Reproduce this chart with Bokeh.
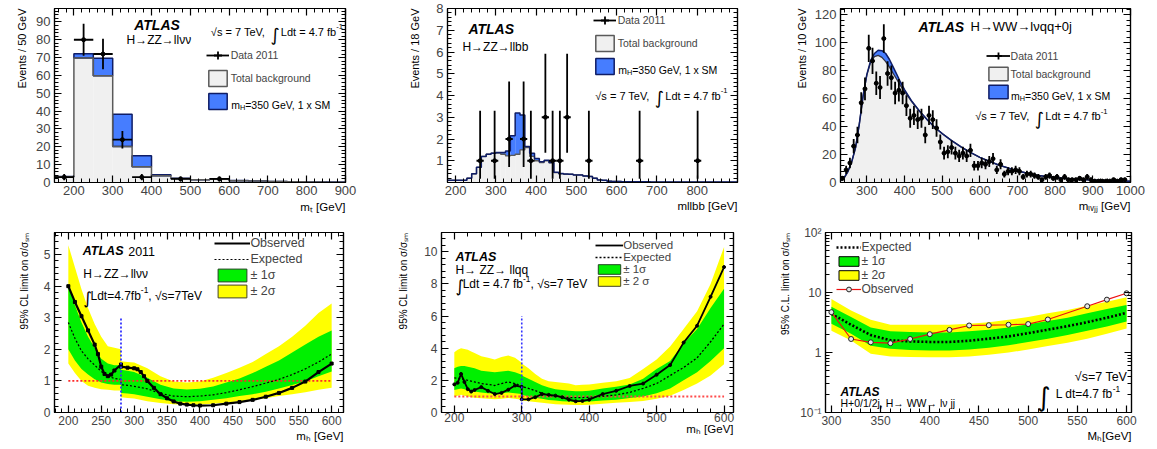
import math
import numpy as np
from bokeh.plotting import figure
from bokeh.layouts import row, column
from bokeh.models import (Label, Legend, LegendItem, FixedTicker, LinearAxis,
                          CustomJSTickFormatter, Range1d, Title)
from bokeh.embed import file_html
from bokeh.resources import INLINE

FONT = "Liberation Sans"
INTFONT = "DejaVu Sans"
BLUE = "#467dff"; NAVY = "#0f1d66"; GREYF = "#f0f0f0"; GREYL = "#5a5a5a"
GREEN = "#00f000"; YELLOW = "#ffff00"

# ====================== DATA ======================
# Panel 1: H->ZZ->llvv, transverse mass
P1_EDGES = [150, 200, 250, 300, 350, 400, 450, 500, 550, 600, 650, 700, 750, 800, 850, 900]
P1_BKG = [3.2, 69.8, 59.8, 20.2, 8.8, 3.8, 2.2, 1.5, 1.8, 1.0, 0.8, 0.5, 0.4, 0.3, 0.2]
P1_TOT = [3.4, 72.2, 69.6, 38.3, 15.0, 4.4, 2.4, 1.6, 2.0, 1.1, 0.9, 0.55, 0.42, 0.32, 0.22]
P1_DATA_X = [175, 225, 275, 325, 375, 475, 575]
P1_DATA_N = [3, 80, 72, 24, 3, 2, 2]

# Panel 2: H->ZZ->llbb
P2_EDGES = list(range(180, 901, 12))
P2_BKG = [0.1, 0.1, 0.1, 0.1, 0.2, 0.4, 0.7, 1.2, 1.3, 1.35,
          1.35, 1.3, 1.22, 1.25, 1.3, 1.5, 1.6, 1.2, 1.0, 0.92,
          1.0, 0.9, 0.45, 0.4, 0.38, 0.38, 0.35, 0.35, 0.3, 0.28,
          0.2, 0.12, 0.1, 0.06, 0.05, 0.05, 0.04, 0.04, 0.03, 0.03,
          0.03, 0.03, 0.02, 0.02, 0.02, 0.02, 0.02, 0.02, 0.02, 0.02,
          0.02, 0.02, 0.02, 0.02, 0.02, 0.02, 0.02, 0.02, 0.02, 0.02]
P2_SIG = [0, 0, 0, 0, 0, 0, 0, 0, 0, 0,
          0.03, 0.08, 0.23, 0.9, 1.9, 1.6, 0.05, 0.15, 0.1, 0.03,
          0.02, 0.02, 0.02, 0.01, 0.01, 0, 0, 0, 0, 0,
          0, 0, 0, 0, 0, 0, 0, 0, 0, 0,
          0, 0, 0, 0, 0, 0, 0, 0, 0, 0,
          0, 0, 0, 0, 0, 0, 0, 0, 0, 0]
P2_DATA_X = [261, 297, 333, 369, 387, 423, 441, 459, 477, 531, 657, 801]
P2_DATA_N = [1, 1, 2, 2, 1, 3, 1, 1, 3, 1, 1, 1]
P2_ERR_LO = [0.83, 0.83, 1.29, 1.29, 0.83, 1.63, 0.83, 0.83, 1.63, 0.83, 0.83, 0.83]
P2_ERR_HI = [2.3, 2.3, 2.64, 2.64, 2.3, 2.92, 2.3, 2.3, 2.92, 2.3, 2.3, 2.3]

# Panel 3: H->WW->lvqq + 0j
P3_X = [230, 240, 250, 260, 270, 280, 290, 300, 310, 320, 330, 340, 350, 360, 370, 380,
        390, 400, 420, 440, 460, 480, 500, 525, 550, 575, 600, 650, 700, 750, 800, 850,
        900, 950, 1000]
P3_BKG = [1.5, 3.5, 8, 15, 25, 42, 62, 77, 86, 90, 91, 89.5, 86.5, 82.5, 78, 73.5,
          69, 65, 57.5, 51, 45, 39.5, 35, 30, 25.5, 21.5, 18, 12.5, 8.3, 5.2, 3.5, 2.4,
          1.7, 1.2, 0.9]
P3_SIG = [0, 0, 0, 0, 0, 0, 0, 0.4, 1.2, 2.3, 3.6, 4.8, 5.8, 5.5, 4.6, 3.6,
          2.4, 1.5, 0.4, 0.05, 0, 0, 0, 0, 0, 0, 0, 0, 0, 0, 0, 0,
          0, 0, 0]
P3_DATA_X = list(range(235, 986, 10))
P3_DATA_N = [3, 9, 14, 26, 34, 57, 67, 96, 87, 71,
             68, 103, 78, 75, 64, 66, 64, 55, 46, 48,
             45, 46, 34, 48, 45, 39, 29, 21, 22, 25,
             21, 19, 21, 19, 23, 12, 12, 14, 13, 15,
             17, 9, 13, 6, 8, 8, 9, 8, 4, 6,
             6, 5, 4, 2, 4, 5, 3, 4, 2, 4,
             2, 2, 2, 3, 2, 4, 2, 1, 1, 1,
             1, 1, 2, 1, 2, 2]

# Panel 4: limit H->ZZ->llvv
P4_X = [200, 210, 220, 230, 240, 250, 260, 270, 280, 280, 290, 300, 320, 340, 360, 380,
        400, 420, 440, 460, 480, 500, 520, 540, 560, 580, 600]
P4_Y2UP = [5.3, 4.6, 3.9, 3.3, 2.8, 2.4, 2.1, 2.05, 2.0, 1.62, 1.6, 1.58, 1.4, 1.15, 0.98, 0.95,
           0.98, 1.1, 1.25, 1.42, 1.6, 1.85, 2.1, 2.4, 2.75, 3.15, 3.45]
P4_Y1UP = [4.0, 3.4, 2.85, 2.4, 2.05, 1.7, 1.55, 1.5, 1.5, 1.35, 1.32, 1.28, 1.1, 0.88, 0.76, 0.73,
           0.75, 0.82, 0.95, 1.08, 1.25, 1.45, 1.65, 1.9, 2.15, 2.4, 2.6]
P4_EXP = [2.85, 2.35, 1.95, 1.7, 1.5, 1.3, 1.15, 1.08, 1.05, 0.88, 0.86, 0.83, 0.75, 0.6, 0.52, 0.5,
          0.52, 0.56, 0.63, 0.72, 0.82, 0.93, 1.05, 1.2, 1.38, 1.6, 1.85]
P4_Y1DN = [2.0, 1.65, 1.38, 1.2, 1.05, 0.95, 0.9, 0.88, 0.88, 0.62, 0.6, 0.58, 0.5, 0.42, 0.36, 0.34,
           0.36, 0.4, 0.45, 0.52, 0.58, 0.66, 0.76, 0.87, 0.98, 1.15, 1.3]
P4_Y2DN = [1.55, 1.25, 1.0, 0.85, 0.78, 0.74, 0.72, 0.7, 0.7, 0.48, 0.46, 0.44, 0.36, 0.3, 0.26, 0.24,
           0.25, 0.28, 0.32, 0.36, 0.4, 0.45, 0.52, 0.58, 0.64, 0.72, 0.78]
P4_OBS_X = [200, 210, 220, 230, 240, 245, 250, 255, 260, 265, 270, 280, 280, 290, 300, 305, 310,
            315, 320, 330, 340, 350, 360, 370, 380, 390, 400, 420, 440, 460, 480, 500, 520,
            540, 560, 580, 600]
P4_OBS = [4.0, 3.5, 3.05, 2.6, 2.15, 1.85, 1.45, 1.22, 1.15, 1.2, 1.33, 1.52, 1.45, 1.42, 1.4, 1.37,
          1.28, 1.15, 1.0, 0.78, 0.58, 0.45, 0.35, 0.28, 0.25, 0.23, 0.22, 0.23, 0.28, 0.33, 0.4,
          0.5, 0.62, 0.78, 0.98, 1.28, 1.55]
P4_SPLIT_MASS = 280
P4_SPLIT_TOP = 3.0

# Panel 5: limit H->ZZ->llqq
P5_X = [200, 205, 210, 215, 220, 225, 230, 240, 250, 260, 270, 280, 290, 300, 300, 310, 320,
        330, 340, 350, 360, 370, 380, 390, 400, 420, 440, 460, 480, 500, 520, 540, 560, 580, 600]
P5_OBS = [1.75, 1.85, 2.4, 1.9, 1.45, 1.3, 1.4, 1.58, 1.35, 1.15, 1.22, 1.42, 1.68, 1.6, 0.82, 0.82,
          0.95, 1.15, 1.1, 1.05, 0.95, 0.8, 0.7, 0.72, 0.8, 1.15, 1.35, 1.65, 1.8, 2.35, 2.95, 4.35,
          5.4, 7.2, 9.05]
P5_EXP = [2.15, 2.13, 2.1, 2.05, 2.0, 1.95, 1.9, 1.8, 1.75, 1.68, 1.8, 1.9, 1.8, 1.65, 1.62, 1.5,
          1.36, 1.2, 1.07, 1.0, 0.96, 0.93, 0.92, 0.93, 0.95, 1.0, 1.1, 1.25, 1.5, 1.8, 2.3, 2.8,
          3.4, 4.4, 5.5]
P5_Y2UP = [3.75, 3.9, 4.0, 3.95, 3.9, 3.8, 3.7, 3.5, 3.4, 3.3, 3.45, 3.55, 3.4, 3.1, 3.05, 2.75,
           2.4, 2.1, 1.95, 1.9, 1.85, 1.8, 1.7, 1.72, 1.75, 1.85, 1.95, 2.15, 2.7, 3.3, 4.1, 5.2,
           6.3, 8.0, 10.3]
P5_Y1UP = [2.75, 2.85, 2.9, 2.9, 2.85, 2.8, 2.75, 2.6, 2.55, 2.5, 2.55, 2.6, 2.5, 2.35, 2.3, 2.1,
           1.9, 1.7, 1.55, 1.45, 1.4, 1.35, 1.33, 1.33, 1.35, 1.5, 1.6, 1.75, 2.1, 2.7, 3.2, 4.3,
           5.2, 6.5, 7.7]
P5_Y1DN = [1.4, 1.45, 1.5, 1.45, 1.4, 1.35, 1.3, 1.25, 1.2, 1.18, 1.2, 1.25, 1.2, 1.15, 1.1, 1.0,
           0.92, 0.85, 0.78, 0.74, 0.7, 0.68, 0.66, 0.66, 0.68, 0.74, 0.8, 0.9, 1.0, 1.2, 1.5, 2.0,
           2.5, 3.2, 4.0]
P5_Y2DN = [1.0, 1.05, 1.1, 1.05, 1.0, 0.95, 0.92, 0.88, 0.85, 0.82, 0.85, 0.9, 0.85, 0.8, 0.75, 0.7,
           0.65, 0.6, 0.56, 0.52, 0.5, 0.48, 0.46, 0.46, 0.48, 0.55, 0.6, 0.66, 0.72, 0.85, 1.05, 1.4,
           1.8, 2.3, 3.0]
P5_SPLIT_MASS = 300
P5_SPLIT_TOP = 6.0

# Panel 6: limit H->WW->lvjj
P6_X = [300, 320, 340, 360, 380, 400, 420, 440, 460, 480, 500, 520, 540, 560, 580, 600]
P6_EXP = [4.4, 2.9, 1.95, 1.6, 1.53, 1.5, 1.5, 1.57, 1.7, 1.85, 2.1, 2.4, 2.75, 3.2, 3.8, 4.6]
P6_Y1UP = [5.8, 3.9, 2.6, 2.25, 2.2, 2.15, 2.15, 2.25, 2.4, 2.6, 2.95, 3.35, 3.8, 4.5, 5.3, 6.2]
P6_Y1DN = [3.0, 2.05, 1.3, 1.15, 1.1, 1.08, 1.08, 1.12, 1.2, 1.32, 1.5, 1.7, 1.95, 2.3, 2.7, 3.3]
P6_Y2UP = [7.8, 5.0, 3.5, 2.9, 2.9, 2.9, 2.9, 3.0, 3.2, 3.5, 3.9, 4.5, 5.1, 6.0, 7.0, 8.3]
P6_Y2DN = [2.3, 1.58, 0.95, 0.86, 0.84, 0.83, 0.83, 0.86, 0.92, 1.0, 1.12, 1.28, 1.45, 1.7, 2.05, 2.5]
P6_OBS_X = [300, 320, 340, 360, 380, 400, 420, 440, 460, 480, 500, 520, 560, 580, 600]
P6_OBS = [4.7, 1.68, 1.48, 1.43, 1.68, 2.02, 2.38, 2.82, 2.85, 2.9, 2.98, 3.55, 5.9, 7.6, 9.7]

# ====================== HELPERS ======================
AW = {' ': 278, '%': 889, '(': 333, ')': 333, '+': 584, ',': 278, '-': 333, '.': 278, '/': 278,
      '=': 584, '[': 278, ']': 278, '\u00b1': 584, '\u2192': 1000, '\u03c3': 570, '\u03bd': 500,
      '\u221a': 549, '\u222b': 420}
for _c in '0123456789':
    AW[_c] = 556
AW.update(dict(a=556, b=556, c=500, d=556, e=556, f=278, g=556, h=556, i=222, j=222, k=500, l=222,
               m=833, n=556, o=556, p=556, q=556, r=333, s=500, t=278, u=556, v=500, w=722, x=500,
               y=500, z=500))
AW.update(dict(A=667, B=667, C=722, D=722, E=667, F=611, G=778, H=722, I=278, J=500, K=667, L=556,
               M=833, N=722, O=778, P=667, Q=778, R=722, S=667, T=611, U=722, V=667, W=944, X=667,
               Y=667, Z=611))


def tw(s, size, style="normal"):
    w = sum(AW.get(c, 556) for c in s) / 1000.0 * size
    return w * (1.06 if "bold" in style else 1.0)


def N(t, s, dy=0.0, font=FONT):
    return (t, s, dy, "normal", font)


def BI(t, s):
    return (t, s, 0.0, "bold italic", FONT)


def INT(s, dy):
    return ("\u222b", s, dy, "normal", INTFONT)


def SUB(t, s):
    return (t, round(s * 0.7, 1), -0.25 * s, "normal", FONT)


def SUP(t, s):
    return (t, round(s * 0.7, 1), 0.45 * s, "normal", FONT)


def rich(p, x, y, parts, units="data", align="left", color="black"):
    widths = [tw(t, s, st) for (t, s, dy, st, f) in parts]
    total = sum(widths)
    cum = {"left": 0.0, "right": -total, "center": -total / 2.0}[align]
    for (t, s, dy, st, f), w in zip(parts, widths):
        lead = len(t) - len(t.lstrip(" "))
        off = cum + lead * 0.278 * s
        txt = t.strip(" ")
        if txt:
            p.add_layout(Label(x=x, y=y, x_units=units, y_units=units, text=txt,
                               x_offset=off, y_offset=dy,
                               text_font=f, text_font_size=f"{s}px", text_font_style=st,
                               text_color=color, text_align="left", text_baseline="alphabetic"))
        cum += w


def make_title(text, size, standoff):
    kw = dict(text=text, align="right", text_font=FONT, text_font_size=f"{size}px",
              text_font_style="normal", text_color="black")
    try:
        return Title(standoff=standoff, **kw)
    except Exception:
        return Title(standoff=0, **kw)


def xtitle(p, text, size, standoff):
    p.add_layout(make_title(text, size, standoff), "below")


def ytitle(p, text, size, standoff):
    p.add_layout(make_title(text, size, standoff), "left")


def style_axis(ax, size, standoff=3):
    ax.axis_line_color = "black"
    ax.axis_line_width = 1.2
    ax.major_tick_in = 7
    ax.major_tick_out = 0
    ax.minor_tick_in = 4
    ax.minor_tick_out = 0
    ax.major_tick_line_width = 1.2
    ax.minor_tick_line_width = 1.0
    ax.major_label_text_font = FONT
    ax.major_label_text_font_size = size
    ax.major_label_standoff = standoff
    ax.axis_label = None


def ticks(a, b, step):
    return [round(float(v), 6) for v in np.arange(a, b + step / 2.0, step)]


def minors(a, b, step, majors):
    return [v for v in ticks(a, b, step) if all(abs(v - m) > 1e-9 for m in majors)]


def make_fig(w, h, xr, yr, bl, br, bt, bb, xmaj, xmin, ymaj, ymin, log=False, fsize="12px",
             xstand=3):
    p = figure(width=w, height=h, x_range=Range1d(*xr), y_range=Range1d(*yr),
               y_axis_type="log" if log else "linear", title=None,
               output_backend="svg", toolbar_location=None,
               min_border_left=bl, min_border_right=br, min_border_top=bt, min_border_bottom=bb)
    p.xgrid.visible = False
    p.ygrid.visible = False
    p.outline_line_color = "black"
    p.outline_line_width = 1.2
    xt = FixedTicker(ticks=xmaj, minor_ticks=xmin)
    yt = FixedTicker(ticks=ymaj, minor_ticks=ymin)
    p.xaxis.ticker = xt
    p.yaxis.ticker = yt
    style_axis(p.xaxis[0], fsize, xstand)
    style_axis(p.yaxis[0], fsize, 4)
    for loc, t in (("above", xt), ("right", yt)):
        ax = LinearAxis(ticker=t, formatter=CustomJSTickFormatter(code="return '';"))
        style_axis(ax, "1px", 0)
        p.add_layout(ax, loc)
    return p


def make_legend(p, entries, loc, gw, gh, lh, spacing, standoff, size):
    items = [LegendItem(label=lab, renderers=rs) for lab, rs in entries]
    leg = Legend(items=items, location=loc, orientation="vertical", glyph_width=gw,
                 glyph_height=gh, label_height=lh, label_width=10, spacing=spacing,
                 label_standoff=standoff, padding=0, margin=0, border_line_color=None,
                 background_fill_alpha=0, inactive_fill_alpha=0, label_text_font=FONT,
                 label_text_font_size=f"{size}px")
    p.add_layout(leg)


def data_points(p, x, n, lo, hi, xhw, size=4):
    x = np.asarray(x, float)
    n = np.asarray(n, float)
    p.segment(x0=x, y0=n - np.asarray(lo), x1=x, y1=n + np.asarray(hi),
              line_color="black", line_width=1.8)
    rh = p.segment(x0=x - xhw, y0=n, x1=x + xhw, y1=n, line_color="black", line_width=1.8)
    p.scatter(x, n, marker="circle", size=size, color="black")
    rx = p.scatter(x, n, marker="cross", size=8, line_color="black", line_width=1.8,
                   visible=False)
    return [rh, rx]


def box_dummy(p, left, right, top, fill, line, lw=1.5):
    # legend-only swatch, built from the first bin of the series, not drawn in the plot
    return p.quad(left=left[:1], right=right[:1], bottom=[0], top=top[:1], fill_color=fill,
                  line_color=line, line_width=lw, visible=False)


def mh_label(p, x, y, s):
    rich(p, x, y, [N("m", s), SUB("H", s), N("=350 GeV, 1 x SM", s)], units="screen")


def lumi_parts(s):
    return [N("\u221as = 7 TeV, ", s), INT(round(s * 1.6, 1), -0.25 * s),
            N(" Ldt = 4.7 fb", s), SUP("-1", s)]


TOPF = "13px"

# ====================== PANEL 1 ======================
p1 = make_fig(390, 225, (150, 900), (0, 97.5), 54, 45, 3, 43,
              ticks(200, 900, 100), minors(160, 900, 20, ticks(200, 900, 100)),
              ticks(0, 90, 10), minors(0, 96, 2, ticks(0, 90, 10)), fsize=TOPF)
e1 = np.array(P1_EDGES, float)
bkg1 = np.array(P1_BKG)
tot1 = np.array(P1_TOT)
p1.quad(left=e1[:-1], right=e1[1:], bottom=0, top=bkg1, fill_color=GREYF, line_color=None)
p1.quad(left=e1[:-1], right=e1[1:], bottom=bkg1, top=tot1, fill_color=BLUE, line_color=NAVY,
        line_width=1.5)
p1.step(x=e1, y=np.append(bkg1, bkg1[-1]), mode="after", line_color=GREYL, line_width=1.5)
n1 = np.array(P1_DATA_N, float)
d1 = data_points(p1, P1_DATA_X, n1, np.sqrt(n1), np.sqrt(n1), 25)
b1 = box_dummy(p1, e1[:-1], e1[1:], bkg1, GREYF, GREYL)
s1 = box_dummy(p1, e1[:-1], e1[1:], tot1, BLUE, NAVY)
make_legend(p1, [("Data 2011", d1), ("Total background", [b1]), (" ", [s1])],
            (151.7, 71), 23, 20, 20, 3, 2, 10.5)
mh_label(p1, 176.7, 77.2, 10.5)
rich(p1, 416, 88.2, [BI("ATLAS", 14)], align="center")
rich(p1, 419, 79.9, [N("H\u2192ZZ\u2192ll\u03bd\u03bd", 12)], align="center")
rich(p1, 553, 84.4, lumi_parts(11))
xtitle(p1, "m\u209c [GeV]", 11.5, 2)
ytitle(p1, "Events / 50 GeV", 11, 12)

# ====================== PANEL 2 ======================
p2 = make_fig(390, 225, (180, 900), (0, 8), 57, 43, 8, 43,
              ticks(200, 800, 100), minors(180, 900, 20, ticks(200, 800, 100)),
              ticks(1, 8, 1), minors(0, 8, 0.2, ticks(0, 8, 1)), fsize=TOPF)
e2 = np.array(P2_EDGES, float)
bkg2 = np.array(P2_BKG)
tot2 = bkg2 + np.array(P2_SIG)
p2.quad(left=e2[:-1], right=e2[1:], bottom=0, top=bkg2, fill_color=GREYF, line_color=None)
p2.quad(left=e2[:-1], right=e2[1:], bottom=bkg2, top=tot2, fill_color=BLUE, line_color=None)
p2.step(x=e2, y=np.append(bkg2, bkg2[-1]), mode="after", line_color=GREYL, line_width=1.3)
p2.step(x=e2, y=np.append(tot2, tot2[-1]), mode="after", line_color=NAVY, line_width=1.5)
d2 = data_points(p2, P2_DATA_X, P2_DATA_N, P2_ERR_LO, P2_ERR_HI, 9)
b2 = box_dummy(p2, e2[:-1], e2[1:], bkg2, GREYF, GREYL)
s2 = box_dummy(p2, e2[:-1], e2[1:], tot2, BLUE, NAVY)
make_legend(p2, [("Data 2011", d2), ("Total background", [b2]), (" ", [s2])],
            (145.7, 106), 23, 20, 20, 3, 2, 10.5)
mh_label(p2, 170.7, 112.2, 10.5)
rich(p2, 232, 7.05, [BI("ATLAS", 14)])
rich(p2, 217, 6.25, [N("H\u2192ZZ\u2192llbb", 12)])
rich(p2, 547, 4.0, lumi_parts(11))
xtitle(p2, "mllbb [GeV]", 11.5, 0)
ytitle(p2, "Events / 18 GeV", 11, 26)

# ====================== PANEL 3 ======================
p3 = make_fig(376, 225, (230, 1000), (0, 124.5), 60, 26, 3, 43,
              ticks(300, 1000, 100), minors(240, 1000, 20, ticks(300, 1000, 100)),
              ticks(0, 120, 20), minors(0, 124, 4, ticks(0, 120, 20)), fsize=TOPF)
x3 = np.array(P3_X, float)
bkg3 = np.array(P3_BKG)
tot3 = bkg3 + np.array(P3_SIG)
p3.varea(x=x3, y1=0, y2=bkg3, fill_color=GREYF)
p3.varea(x=x3, y1=bkg3, y2=tot3, fill_color=BLUE)
p3.line(x3, bkg3, line_color="#333344", line_width=1.3)
p3.line(x3, tot3, line_color=NAVY, line_width=1.5)
n3 = np.array(P3_DATA_N, float)
d3 = data_points(p3, P3_DATA_X, n3, np.sqrt(n3), np.sqrt(n3), 5, size=4)
b3 = box_dummy(p3, x3[:-1], x3[1:], bkg3, GREYF, GREYL)
s3 = box_dummy(p3, x3[:-1], x3[1:], tot3, BLUE, NAVY)
make_legend(p3, [("Data 2011", d3), ("Total background", [b3]), (" ", [s3])],
            (145.6, 82), 24, 17, 17, 1, 1, 10.5)
mh_label(p3, 170.6, 86.7, 10.5)
rich(p3, 437, 111.2, [BI("ATLAS", 14)])
rich(p3, 575, 111.7, [N("H\u2192WW\u2192l\u03bdqq+0j", 13)])
rich(p3, 588, 47.3, lumi_parts(11))
xtitle(p3, "m\u2097\u1d65\u2c7c\u2c7c [GeV]", 11.5, 1)
ytitle(p3, "Events / 10 GeV", 11, 8)

# ====================== PANEL 4 ======================
p4 = make_fig(383, 223, (179, 618), (0, 5.7), 54, 40, 3, 36,
              ticks(200, 600, 50), minors(180, 610, 10, ticks(200, 600, 50)),
              ticks(0, 5, 1), minors(0, 5.6, 0.2, ticks(0, 5, 1)))
p4.varea(x=P4_X, y1=P4_Y2DN, y2=P4_Y2UP, fill_color=YELLOW)
p4.varea(x=P4_X, y1=P4_Y1DN, y2=P4_Y1UP, fill_color=GREEN)
m4 = P4_X
p4.line([m4[0], m4[-1]], [1, 1], line_color="#ff2a2a", line_width=1.6, line_dash="2 2")
r4e = p4.line(P4_X, P4_EXP, line_color="black", line_width=1.2, line_dash="2 2")
r4o = p4.line(P4_OBS_X, P4_OBS, line_color="black", line_width=2.2)
p4.scatter(P4_OBS_X, P4_OBS, marker="square", size=3, color="black")
p4.segment(x0=[P4_SPLIT_MASS], y0=[0], x1=[P4_SPLIT_MASS], y1=[P4_SPLIT_TOP],
           line_color="#3333ff", line_width=1.8, line_dash="2 2")
x4 = np.array(P4_X, float)
g4 = box_dummy(p4, x4[:-1], x4[1:], P4_Y1UP, GREEN, "#224422", 1)
y4 = box_dummy(p4, x4[:-1], x4[1:], P4_Y2UP, YELLOW, "#444422", 1)
make_legend(p4, [("Observed", [r4o]), ("Expected", [r4e]), ("\u00b1 1\u03c3", [g4]),
                 ("\u00b1 2\u03c3", [y4])], (160.4, 113), 36, 16, 16, 0, 0, 12.5)
rich(p4, 221.9, 5.11, [BI("ATLAS", 12.5), N(" 2011", 12.5)])
rich(p4, 222.8, 4.38, [N("H\u2192ZZ\u2192ll\u03bd\u03bd", 12)])
rich(p4, 222.8, 3.70, [INT(17, -2), N("Ldt=4.7fb", 12), SUP("-1", 12),
                       N(", \u221as=7TeV", 12)])
xtitle(p4, "m\u2095 [GeV]", 11.5, 0)
ytitle(p4, "95% CL limit on \u03c3/\u03c3\u209b\u2098", 10, 21)

# ====================== PANEL 5 ======================
p5 = make_fig(387, 223, (181, 614), (0, 11.2), 55, 37, 3, 28,
              ticks(200, 600, 100), minors(180, 600, 20, ticks(200, 600, 100)),
              ticks(0, 10, 2), minors(0, 11.2, 0.4, ticks(0, 10, 2)), xstand=0)
p5.varea(x=P5_X, y1=P5_Y2DN, y2=P5_Y2UP, fill_color=YELLOW)
p5.varea(x=P5_X, y1=P5_Y1DN, y2=P5_Y1UP, fill_color=GREEN)
m5 = P5_X
p5.line([m5[0], m5[-1]], [1, 1], line_color="#ff4a4a", line_width=2, line_dash="2 2")
r5e = p5.line(P5_X, P5_EXP, line_color="black", line_width=1.3, line_dash="2 2")
r5o = p5.line(P5_X, P5_OBS, line_color="black", line_width=1.8)
p5.scatter(P5_X, P5_OBS, marker="circle", size=3, color="black")
p5.segment(x0=[P5_SPLIT_MASS], y0=[0], x1=[P5_SPLIT_MASS], y1=[P5_SPLIT_TOP],
           line_color="#3333ff", line_width=1.6, line_dash="2 2")
x5 = np.array(P5_X, float)
g5 = box_dummy(p5, x5[:-1], x5[1:], P5_Y1UP, GREEN, "#224422", 1)
y5 = box_dummy(p5, x5[:-1], x5[1:], P5_Y2UP, YELLOW, "#444422", 1)
make_legend(p5, [("Observed", [r5o]), ("Expected", [r5e]), ("\u00b1 1\u03c3", [g5]),
                 ("\u00b1 2 \u03c3", [y5])], (154.2, 125), 28, 12, 11, -2, 0, 11.5)
rich(p5, 201.8, 9.68, [BI("ATLAS", 12.5)])
rich(p5, 201.8, 8.87, [N("H\u2192 ZZ\u2192 llqq", 12)])
rich(p5, 201.8, 7.99, [INT(17, -2), N("Ldt = 4.7 fb", 12), SUP("-1", 12),
                       N(", \u221as=7 TeV", 12)])
xtitle(p5, "m\u2095 [GeV]", 11.5, -8)
ytitle(p5, "95% CL limit on \u03c3/\u03c3\u209b\u2098", 10, 25)

# ====================== PANEL 6 ======================
y6_major = [0.1, 1, 10, 100]
y6_minor = [round(d * 10 ** k, 6) for k in (-1, 0, 1) for d in range(2, 10)]
p6 = make_fig(386, 223, (294, 605), (0.1, 100), 55, 25, 7, 36,
              ticks(300, 600, 50), minors(300, 600, 10, ticks(300, 600, 50)),
              y6_major, y6_minor, log=True)
p6.yaxis[0].formatter = CustomJSTickFormatter(code="""
if (Math.abs(tick - 0.1) < 1e-9) { return '10\u207b\u00b9'; }
if (Math.abs(tick - 100) < 1e-6) { return '10\u00b2'; }
return String(Math.round(tick));
""")
p6.varea(x=P6_X, y1=P6_Y2DN, y2=P6_Y2UP, fill_color=YELLOW)
p6.varea(x=P6_X, y1=P6_Y1DN, y2=P6_Y1UP, fill_color=GREEN)
r6e = p6.line(P6_X, P6_EXP, line_color="black", line_width=2.6, line_dash="2 2")
r6o = p6.line(P6_OBS_X, P6_OBS, line_color="#ee1111", line_width=1.2)
r6m = p6.scatter(P6_OBS_X, P6_OBS, marker="circle", size=5, fill_color="#e8e8e8",
                 line_color="#222222", line_width=1)
x6 = np.array(P6_X, float)
g6 = box_dummy(p6, x6[:-1], x6[1:], P6_Y1UP, GREEN, "black", 1)
y6 = box_dummy(p6, x6[:-1], x6[1:], P6_Y2UP, YELLOW, "black", 1)
make_legend(p6, [("Expected", [r6e]), ("\u00b1 1\u03c3", [g6]), ("\u00b1 2\u03c3", [y6]),
                 ("Observed", [r6o, r6m])], (10.5, 116), 25, 12, 12, 0, 1, 12)
rich(p6, 309.2, 0.219, [BI("ATLAS", 12)])
rich(p6, 309.2, 0.145, [N("H+0/1/2j, H\u2192 WW\u2192 l\u03bd jj", 10.5)])
rich(p6, 602, 0.391, [N("\u221as=7 TeV", 12.5)], align="right")
rich(p6, 509, 0.183, [INT(26, 0)])
rich(p6, 527.9, 0.203, [N("L dt=4.7 fb", 12), SUP("-1", 12)])
xtitle(p6, "M\u2095[GeV]", 11.5, 0)
ytitle(p6, "95% C.L. limit on \u03c3/\u03c3\u209b\u2098", 10, 13)

layout = column(row(p1, p2, p3), row(p4, p5, p6))
open("out.html", "w").write(file_html(layout, INLINE))
